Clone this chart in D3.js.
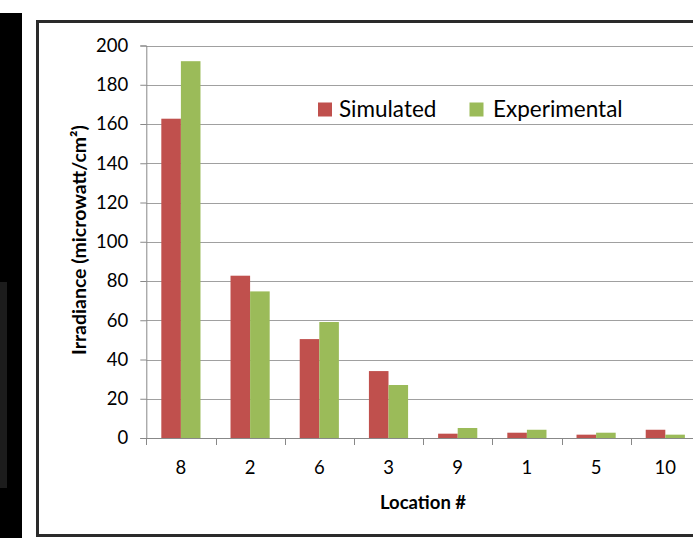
<!DOCTYPE html>
<html>
<head>
<meta charset="utf-8">
<script src="https://cdn.jsdelivr.net/npm/d3@7"></script>
<style>
  html, body { margin: 0; padding: 0; background: #ffffff; }
  svg { display: block; }
  text { font-family: Lato, "Open Sans", sans-serif; fill: #000; }
</style>
</head>
<body>
<svg id="chart" width="693" height="538"></svg>
<script>
const categories = ["8", "2", "6", "3", "9", "1", "5", "10"];
const simulated = [162.7, 82.7, 50.4, 34.1, 2.2, 2.7, 1.7, 4.2];
const experimental = [192.0, 74.7, 59.1, 27.0, 5.1, 4.2, 2.7, 1.7];
const seriesNames = ["Simulated", "Experimental"];
const seriesColors = ["#C0504D", "#9BBB59"];
const yTicks = [0, 20, 40, 60, 80, 100, 120, 140, 160, 180, 200];

const svg = d3.select("#chart");

// background pieces (black strip on the left, framed white chart area)
svg.append("rect").attr("x", 0).attr("y", 13).attr("width", 22).attr("height", 525).attr("fill", "#000");
svg.append("rect").attr("x", 0).attr("y", 282).attr("width", 7).attr("height", 206).attr("fill", "#1c1c1c");
svg.append("rect").attr("x", 37.5).attr("y", 21.5).attr("width", 700).attr("height", 514)
  .attr("fill", "#fff").attr("stroke", "#2a2a2a").attr("stroke-width", 3);

const plotLeft = 146.3, bandW = 69.2;
const x = d3.scaleBand().domain(categories).range([plotLeft, plotLeft + bandW * categories.length]).padding(0);
const y = d3.scaleLinear().domain([0, 200]).range([438, 45.5]);
const groupW = x.bandwidth() * 0.566;
const xs = d3.scaleBand().domain(seriesNames).range([(x.bandwidth() - groupW) / 2, (x.bandwidth() + groupW) / 2]).padding(0);

// gridlines
svg.append("g").selectAll("line").data(yTicks.filter(d => d > 0)).join("line")
  .attr("x1", plotLeft).attr("x2", 693)
  .attr("y1", d => Math.round(y(d)) + 0.5).attr("y2", d => Math.round(y(d)) + 0.5)
  .attr("stroke", "#a0a0a0").attr("stroke-width", 1);

// bars
const rows = categories.map((c, i) => ({ cat: c, vals: [simulated[i], experimental[i]] }));
const groups = svg.append("g").selectAll("g").data(rows).join("g")
  .attr("transform", d => `translate(${x(d.cat)},0)`);
groups.selectAll("rect").data(d => d.vals.map((v, j) => ({ v, s: seriesNames[j], c: seriesColors[j] }))).join("rect")
  .attr("x", d => xs(d.s)).attr("width", xs.bandwidth())
  .attr("y", d => y(d.v)).attr("height", d => y(0) - y(d.v))
  .attr("fill", d => d.c);

// y axis
const yAxis = svg.append("g").attr("transform", `translate(${plotLeft},0)`)
  .call(d3.axisLeft(y).tickValues(yTicks).tickSize(6).tickPadding(12).tickFormat(d3.format("d")));
yAxis.select(".domain").attr("stroke", "#888");
yAxis.selectAll(".tick line").attr("stroke", "#888");
yAxis.selectAll(".tick text").attr("font-size", 18.5).attr("font-family", "Lato");

// x axis (ticks at category boundaries)
const xAxisG = svg.append("g");
xAxisG.append("line").attr("x1", plotLeft).attr("x2", 693).attr("y1", y(0) + 0.5).attr("y2", y(0) + 0.5).attr("stroke", "#888");
const bounds = categories.map(c => x(c));
xAxisG.selectAll("line.tk").data(bounds).join("line").attr("class", "tk")
  .attr("x1", d => Math.round(d) + 0.5).attr("x2", d => Math.round(d) + 0.5)
  .attr("y1", y(0)).attr("y2", y(0) + 7).attr("stroke", "#888");
xAxisG.selectAll("text").data(categories).join("text")
  .attr("x", d => x(d) + x.bandwidth() / 2).attr("y", 474)
  .attr("text-anchor", "middle").attr("font-size", 18.5).text(d => d);

// axis titles
svg.append("text").attr("x", 423).attr("y", 509).attr("text-anchor", "middle")
  .attr("font-size", 18.5).attr("font-weight", "bold").text("Location #");
svg.append("text").attr("transform", "translate(86,240) rotate(-90)").attr("text-anchor", "middle")
  .attr("font-size", 19.5).attr("font-weight", "bold").text("Irradiance (microwatt/cm²)");

// legend
const legendPos = [{ sx: 318, tx: 339 }, { sx: 469.5, tx: 493 }];
const lg = svg.append("g").selectAll("g").data(seriesNames).join("g");
lg.append("rect").attr("x", (d, i) => legendPos[i].sx).attr("y", 102.5).attr("width", 14).attr("height", 14)
  .attr("fill", (d, i) => seriesColors[i]);
lg.append("text").attr("x", (d, i) => legendPos[i].tx).attr("y", 117).attr("font-size", 22.5).text(d => d);
</script>
</body>
</html>
